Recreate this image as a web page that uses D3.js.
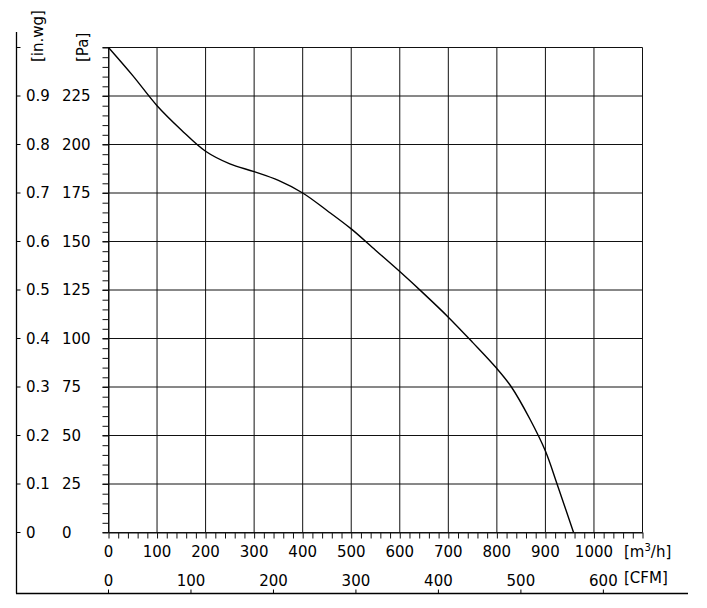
<!DOCTYPE html>
<html lang="en">
<head>
    <meta charset="UTF-8">
    <title>Fan curve</title>
    <script src="https://d3js.org/d3.v7.min.js"></script>
    <style>
        body, html {
            margin: 0;
            background-color: #ffffff;
            overflow: hidden;
        }
        svg text {
            font-family: 'DejaVu Sans', Verdana, sans-serif;
            font-size: 15px;
            fill: #000;
        }
    </style>
</head>
<body>
<svg id="chart" width="707" height="608"></svg>

<script>
    // airflow [m3/h] vs static pressure [Pa]
    const flow     = [0, 50, 100, 150, 200, 250, 300, 350, 400, 450, 500, 550, 600, 650, 700, 750, 800, 830, 868, 900, 924, 958];
    const pressure = [250, 235.5, 220, 207.5, 196.5, 190, 186, 181.5, 175, 166, 156.5, 145.5, 134.5, 123, 111, 98, 84.5, 75, 58.5, 42, 25, 0];

    const flowTicks  = [0, 100, 200, 300, 400, 500, 600, 700, 800, 900, 1000];
    const cfmTicks   = [0, 100, 200, 300, 400, 500, 600];
    const paTicks    = [0, 25, 50, 75, 100, 125, 150, 175, 200, 225];
    const inwgTicks  = [0, 0.1, 0.2, 0.3, 0.4, 0.5, 0.6, 0.7, 0.8, 0.9];

    const svg = d3.select('#chart');

    const x = d3.scaleLinear().domain([0, 1100]).range([108.5, 642.5]);
    const y = d3.scaleLinear().domain([0, 250]).range([532.5, 47.5]);
    const inwg = d3.scaleLinear().domain([0, 1]).range([532.5, 47.5]);
    // 1 CFM = 1.699 m3/h
    const cfm = d3.scaleLinear().domain([0, 1100 / 1.699]).range([108.5, 642.5]);

    // grid
    const grid = svg.append('g').attr('stroke', '#111').attr('stroke-width', 1);
    grid.selectAll('.vx').data(d3.range(0, 1101, 100)).join('line')
        .attr('x1', d => x(d)).attr('x2', d => x(d))
        .attr('y1', y(250)).attr('y2', y(0));
    grid.selectAll('.hy').data(d3.range(0, 251, 25)).join('line')
        .attr('x1', x(0) - 6).attr('x2', x(1100))
        .attr('y1', d => y(d)).attr('y2', d => y(d));

    // minor ticks on the plot edges
    svg.append('g')
        .attr('transform', `translate(0,${y(0)})`)
        .call(d3.axisBottom(x).tickValues(d3.range(0, 1101, 20)).tickSize(6).tickSizeOuter(0).tickFormat(''))
        .call(g => g.selectAll('line,path').attr('stroke', '#111'));
    svg.append('g')
        .attr('transform', `translate(${x(0)},0)`)
        .call(d3.axisLeft(y).tickValues(d3.range(0, 251, 5)).tickSize(6).tickSizeOuter(0).tickFormat(''))
        .call(g => g.selectAll('line,path').attr('stroke', '#111'));

    // m3/h labels
    svg.append('g').selectAll('text').data(flowTicks).join('text')
        .attr('x', d => x(d)).attr('y', 557)
        .attr('text-anchor', 'middle')
        .text(d => d);
    svg.append('text').attr('x', 624).attr('y', 557)
        .html('[m<tspan dy="-6" font-size="10px">3</tspan><tspan dy="6">/h]</tspan>');

    // Pa and in.wg labels
    svg.append('g').selectAll('text').data(paTicks).join('text')
        .attr('x', 62).attr('y', d => y(d)).attr('dy', '0.36em')
        .text(d => d);
    svg.append('g').selectAll('text').data(inwgTicks).join('text')
        .attr('x', 26).attr('y', d => inwg(d)).attr('dy', '0.36em')
        .text(d => d);

    svg.append('text').attr('transform', 'translate(43,62) rotate(-90)').text('[in.wg]');
    svg.append('text').attr('transform', 'translate(88,62) rotate(-90)').text('[Pa]');

    // outer in.wg axis
    svg.append('line').attr('x1', 16.5).attr('x2', 16.5).attr('y1', 32).attr('y2', 593.5)
        .attr('stroke', '#000').attr('stroke-width', 1.3);
    svg.append('g').selectAll('line').data(d3.range(0, 1.01, 0.1)).join('line')
        .attr('x1', 16.5).attr('x2', 20.5)
        .attr('y1', d => inwg(d)).attr('y2', d => inwg(d))
        .attr('stroke', '#000').attr('stroke-width', 1);

    // outer CFM axis
    svg.append('line').attr('x1', 16).attr('x2', 688).attr('y1', 593.5).attr('y2', 593.5)
        .attr('stroke', '#000').attr('stroke-width', 1.3);
    svg.append('g').selectAll('line').data(cfmTicks).join('line')
        .attr('x1', d => cfm(d)).attr('x2', d => cfm(d))
        .attr('y1', 593.5).attr('y2', 589.5)
        .attr('stroke', '#000').attr('stroke-width', 1);
    svg.append('g').selectAll('text').data(cfmTicks).join('text')
        .attr('x', d => cfm(d)).attr('y', 586)
        .attr('text-anchor', 'middle')
        .text(d => d);
    svg.append('text').attr('x', 624).attr('y', 583).text('[CFM]');

    // fan curve
    const pts = flow.map((f, i) => [f, pressure[i]]);
    svg.append('path')
        .datum(pts)
        .attr('fill', 'none')
        .attr('stroke', '#000')
        .attr('stroke-width', 1.4)
        .attr('d', d3.line().x(d => x(d[0])).y(d => y(d[1])).curve(d3.curveCatmullRom.alpha(0.5)));
</script>
</body>
</html>
